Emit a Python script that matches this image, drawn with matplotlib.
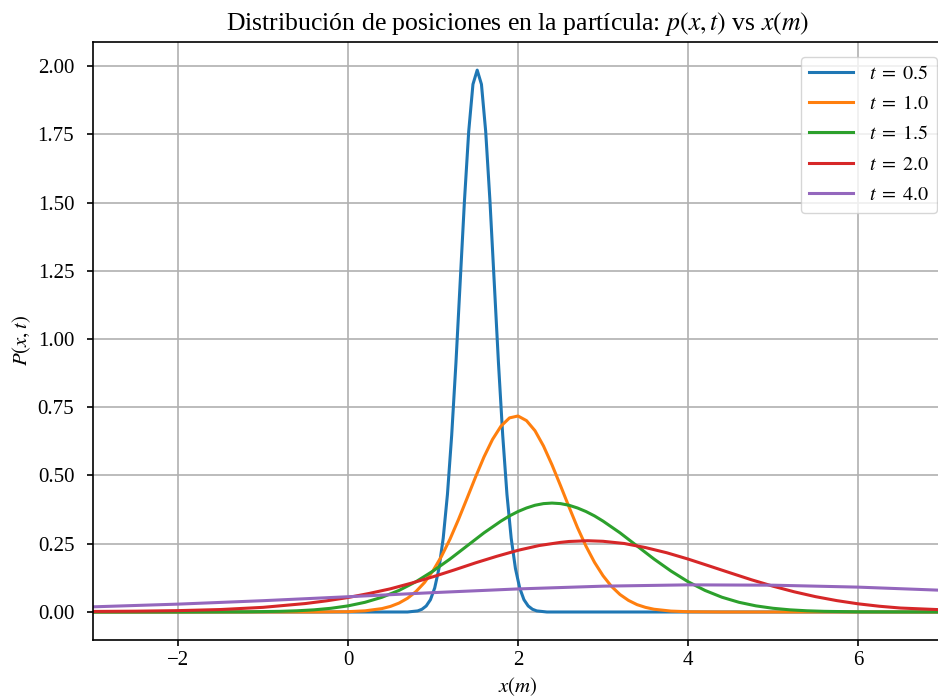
import matplotlib
matplotlib.use("Agg")
import matplotlib.pyplot as plt

# Tiempos y curvas de densidad p(x,t)
tiempos = [0.5, 1.0, 1.5, 2.0, 4.0]
colores = ["#1f77b4", "#ff7f0e", "#2ca02c", "#d62728", "#9467bd"]

x_t05 = [-3.0, 0.7, 0.82, 0.87, 0.92, 0.97, 1.02, 1.07, 1.12, 1.17, 1.22,
         1.27, 1.32, 1.37, 1.42, 1.47, 1.52, 1.57, 1.62, 1.67, 1.72, 1.77,
         1.82, 1.87, 1.92, 1.97, 2.02, 2.07, 2.12, 2.17, 2.22, 2.34, 7.0]
p_t05 = [0.0, 0.0, 0.004, 0.010, 0.022, 0.045, 0.088, 0.159, 0.270, 0.431,
         0.648, 0.913, 1.210, 1.506, 1.760, 1.933, 1.985, 1.933, 1.760,
         1.506, 1.210, 0.913, 0.648, 0.431, 0.270, 0.159, 0.088, 0.045,
         0.022, 0.010, 0.004, 0.0, 0.0]

x_t10 = [-3.0, -0.4, 0.0, 0.2, 0.4, 0.5, 0.6, 0.7, 0.8, 0.9, 1.0, 1.1, 1.2,
         1.3, 1.4, 1.5, 1.6, 1.7, 1.8, 1.9, 2.0, 2.1, 2.2, 2.3, 2.4, 2.5,
         2.6, 2.7, 2.8, 2.9, 3.0, 3.1, 3.2, 3.3, 3.4, 3.5, 3.6, 3.8, 4.0,
         4.4, 7.0]
p_t10 = [0.0, 0.0, 0.0012, 0.0042, 0.0125, 0.0205, 0.0326, 0.0502, 0.0749,
         0.108, 0.151, 0.204, 0.267, 0.339, 0.416, 0.494, 0.568, 0.632,
         0.681, 0.711, 0.718, 0.701, 0.664, 0.608, 0.539, 0.463, 0.385,
         0.309, 0.241, 0.182, 0.133, 0.0937, 0.064, 0.0424, 0.027, 0.0169,
         0.0101, 0.0033, 0.001, 0.0, 0.0]

x_t15 = [-3.0, -2.0, -1.2, -0.8, -0.6, -0.4, -0.2, 0.0, 0.2, 0.4, 0.6, 0.8,
         1.0, 1.2, 1.4, 1.6, 1.8, 1.9, 2.0, 2.1, 2.2, 2.3, 2.4, 2.5, 2.6,
         2.7, 2.8, 2.9, 3.0, 3.2, 3.4, 3.6, 3.8, 4.0, 4.2, 4.4, 4.6, 4.8,
         5.0, 5.2, 5.4, 5.6, 6.0, 7.0]
p_t15 = [0.0, 0.0, 0.0006, 0.0024, 0.0044, 0.0079, 0.0136, 0.0224, 0.0355,
         0.054, 0.079, 0.111, 0.150, 0.194, 0.242, 0.290, 0.333, 0.352,
         0.368, 0.381, 0.391, 0.397, 0.399, 0.397, 0.391, 0.381, 0.368,
         0.352, 0.333, 0.290, 0.242, 0.194, 0.150, 0.111, 0.079, 0.054,
         0.0355, 0.0224, 0.0136, 0.0079, 0.0044, 0.0024, 0.0006, 0.0]

x_t20 = [-3.0, -2.5, -2.0, -1.5, -1.0, -0.5, -0.25, 0.0, 0.25, 0.5, 0.75,
         1.0, 1.25, 1.5, 1.75, 2.0, 2.25, 2.5, 2.6, 2.82, 3.0, 3.25, 3.5,
         3.75, 4.0, 4.25, 4.5, 4.75, 5.0, 5.25, 5.5, 5.75, 6.0, 6.25, 6.5,
         7.0]
p_t20 = [0.002, 0.003, 0.005, 0.009, 0.017, 0.031, 0.041, 0.053, 0.068,
         0.085, 0.106, 0.129, 0.154, 0.180, 0.204, 0.226, 0.2435, 0.255,
         0.2583, 0.261, 0.259, 0.2509, 0.236, 0.217, 0.194, 0.1686, 0.143,
         0.1177, 0.0945, 0.0739, 0.0562, 0.0417, 0.030, 0.0211, 0.0145,
         0.008]

x_t40 = [-3.0, -2.0, -1.0, 0.0, 1.0, 2.0, 3.0, 4.0, 5.0, 6.0, 7.0]
p_t40 = [0.0189, 0.0288, 0.0414, 0.0559, 0.0709, 0.0845, 0.0946, 0.0994,
         0.0982, 0.0911, 0.0794]

xs = [x_t05, x_t10, x_t15, x_t20, x_t40]
ps = [p_t05, p_t10, p_t15, p_t20, p_t40]

plt.rcParams["font.family"] = ["Liberation Serif", "DejaVu Serif"]
plt.rcParams["mathtext.fontset"] = "stix"
plt.rcParams["font.size"] = 15
plt.rcParams["axes.linewidth"] = 1.2
plt.rcParams["xtick.major.width"] = 1.2
plt.rcParams["ytick.major.width"] = 1.2
plt.rcParams["xtick.major.size"] = 4.5
plt.rcParams["ytick.major.size"] = 4.5
plt.rcParams["ytick.major.pad"] = 9

fig = plt.figure(figsize=(9.38, 7.0), dpi=100)
ax = fig.add_axes([93 / 938, 60 / 700, 850 / 938, 598 / 700])

for t, x, p, c in zip(tiempos, xs, ps, colores):
    ax.plot(x, p, color=c, lw=2.2, label=rf"$t\;=\;{t}$")

ax.set_xlim(-3, 7)
ax.set_ylim(-0.1026, 2.088)
ax.set_yticks([0, 0.25, 0.5, 0.75, 1.0, 1.25, 1.5, 1.75, 2.0])
ax.set_yticklabels([f"{v:.2f}" for v in ax.get_yticks()])
ax.grid(True, color="#b0b0b0", lw=1.2)

ax.set_title("Distribución de posiciones en la partícula: $p(x,t)$ vs $x(m)$",
             fontsize=18.5, pad=9)
ax.set_xlabel("$x(m)$", fontsize=15, labelpad=4)
ax.set_ylabel("$P(x,t)$", fontsize=15, labelpad=3)
ax.legend(loc="upper right", bbox_to_anchor=(0.993, 0.975), borderaxespad=0,
          fontsize=14.5, labelspacing=0.55, handlelength=2.2)

fig.savefig("out.png", dpi=100)
